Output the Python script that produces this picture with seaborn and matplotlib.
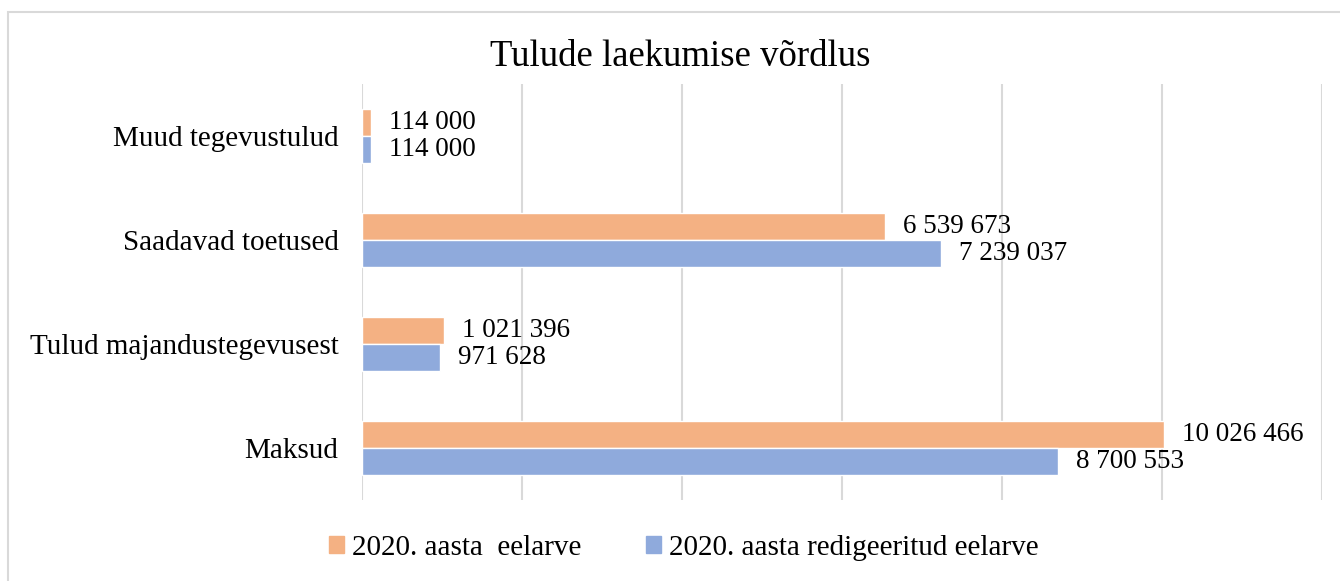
import numpy as np
import pandas as pd
import matplotlib.pyplot as plt
import seaborn as sns
from matplotlib.patches import Rectangle

# Data
categories = ["Muud tegevustulud", "Saadavad toetused", "Tulud majandustegevusest", "Maksud"]
series = ["2020. aasta  eelarve", "2020. aasta redigeeritud eelarve"]
eelarve = [114000, 6539673, 1021396, 10026466]
redigeeritud = [114000, 7239037, 971628, 8700553]
colors = ["#F4B183", "#8FAADC"]

df = pd.DataFrame({
    "kategooria": categories * 2,
    "seeria": [series[0]] * 4 + [series[1]] * 4,
    "summa": eelarve + redigeeritud,
})

sns.set_style("white")
plt.rcParams["font.family"] = ["Liberation Serif", "DejaVu Serif"]
plt.rcParams["text.color"] = "black"
plt.rcParams["ytick.color"] = "black"

fig = plt.figure(figsize=(13.4, 5.81), dpi=100)
ax = fig.add_axes([362 / 1340, 1 - 500 / 581, 960 / 1340, 416 / 581])

sns.barplot(data=df, y="kategooria", x="summa", hue="seeria", order=categories,
            hue_order=series, palette=colors, orient="h", width=0.52,
            saturation=1, ax=ax, legend=False)

ax.set_xlim(0, 12000000)
ax.set_xticks(np.arange(0, 12000001, 2000000))
ax.set_xticklabels([])
ax.grid(axis="x", color="#D9D9D9", linewidth=1.5)
ax.set_axisbelow(True)
ax.tick_params(axis="both", length=0)
ax.tick_params(axis="y", labelsize=21, pad=17, labelcolor="black")
for s in ax.spines.values():
    s.set_visible(False)
ax.set_xlabel("")
ax.set_ylabel("")

fmt = lambda v: f"{v:,.0f}".replace(",", " ")
for cont in ax.containers:
    ax.bar_label(cont, labels=[fmt(v) for v in cont.datavalues], padding=13,
                 fontsize=19.5, color="black")

fig.text(680 / 1340, 1 - 57 / 581, "Tulude laekumise võrdlus", ha="center", va="center",
         fontsize=26.5, color="black")

handles = [Rectangle((0, 0), 1, 1, color=c) for c in colors]
fig.legend(handles, series, loc="center", bbox_to_anchor=(684 / 1340, 1 - 548 / 581),
           ncol=2, frameon=False, fontsize=21, handlelength=0.5, handleheight=0.5,
           handletextpad=0.3, columnspacing=2.2, labelcolor="black")

fig.patches.append(Rectangle((8 / 1340, -0.1), 1.2, 1.1 - 12 / 581, fill=False,
                             edgecolor="#D9D9D9", linewidth=1.5,
                             transform=fig.transFigure, figure=fig))

fig.savefig("out.png", dpi=100)
